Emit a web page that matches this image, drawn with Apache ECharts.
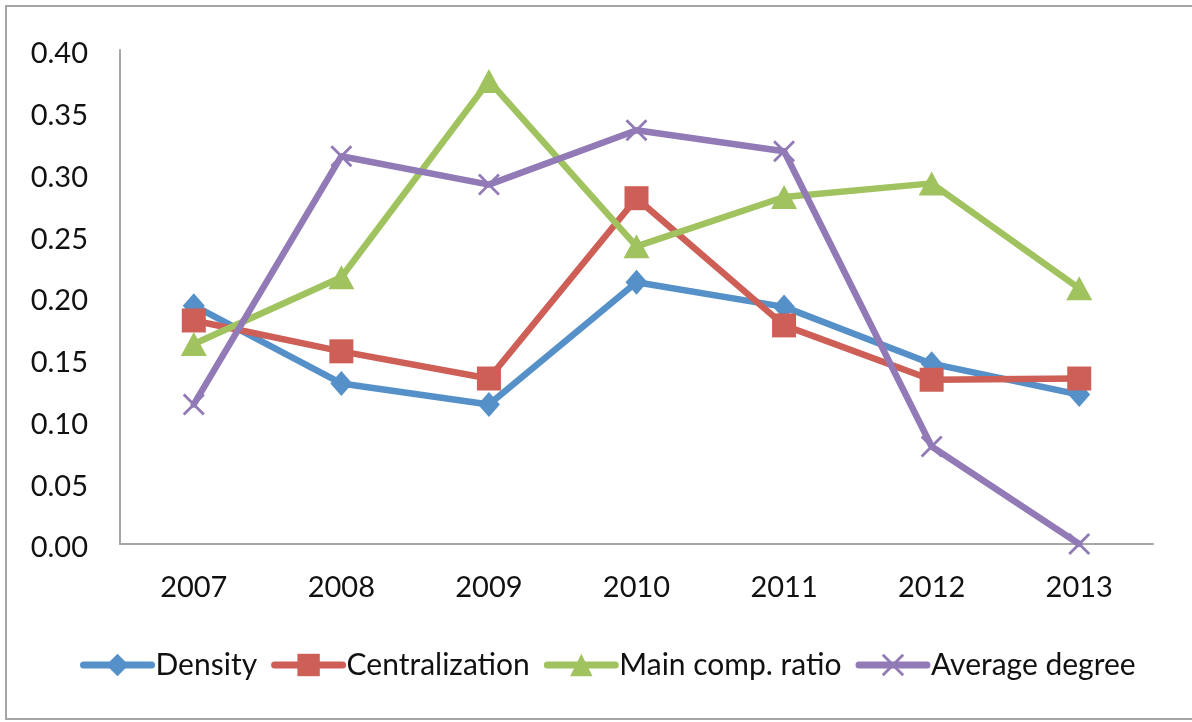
<!DOCTYPE html>
<html>
<head>
<meta charset="utf-8">
<script src="https://cdn.jsdelivr.net/npm/echarts@6/dist/echarts.min.js"></script>
<style>
  html, body { margin: 0; padding: 0; background: #ffffff; }
  #chart { width: 1192px; height: 722px; }
</style>
</head>
<body>
<div id="chart"></div>
<script>
// Yearly network indicators
const years = ['2007', '2008', '2009', '2010', '2011', '2012', '2013'];
const density = [0.193, 0.130, 0.113, 0.212, 0.192, 0.146, 0.121];
const centralization = [0.181, 0.156, 0.134, 0.280, 0.177, 0.133, 0.134];
const mainCompRatio = [0.162, 0.216, 0.375, 0.241, 0.281, 0.292, 0.207];
const averageDegree = [0.113, 0.314, 0.291, 0.335, 0.318, 0.079, 0.000];

const FONT = 'Lato, "Open Sans", sans-serif';
const COLORS = {
  blue: '#5690C8',
  red: '#CD5F57',
  green: '#A0C35F',
  purple: '#917AB6'
};

// Thin "x" marker drawn as two filled bars
const CROSS = 'path://M0,0.9 L0.9,0 L10,9.1 L9.1,10 Z M9.1,0 L10,0.9 L0.9,10 L0,9.1 Z';

function lineSeries(name, data, color, symbol, size) {
  return {
    name: name,
    type: 'line',
    data: data,
    symbol: symbol,
    symbolSize: size,
    showAllSymbol: true,
    lineStyle: { color: color, width: 6.5, cap: 'round', join: 'round' },
    itemStyle: { color: color, borderWidth: 0 },
    emphasis: { disabled: true },
    animation: false
  };
}

const chart = echarts.init(document.getElementById('chart'), null, { renderer: 'canvas' });
chart.setOption({
  backgroundColor: '#ffffff',
  animation: false,
  graphic: [{
    type: 'rect',
    shape: { x: 6, y: 6, width: 1220, height: 713 },
    style: { fill: 'none', stroke: '#a6a6a6', lineWidth: 2 },
    silent: true
  }],
  grid: { left: 120, right: 39, top: 50, bottom: 178, containLabel: false },
  legend: {
    left: 75,
    top: 645,
    itemWidth: 68,
    itemHeight: 28,
    itemGap: 14,
    lineStyle: { width: 7, cap: 'round' },
    textStyle: { fontFamily: FONT, fontSize: 30, color: '#111111', padding: [0, 0, 0, -1] },
    data: ['Density', 'Centralization', 'Main comp. ratio', 'Average degree']
  },
  xAxis: {
    type: 'category',
    data: years,
    boundaryGap: true,
    axisLine: { show: true, lineStyle: { color: '#a6a6a6', width: 2 } },
    axisTick: { show: false },
    axisLabel: { fontFamily: FONT, fontSize: 29, color: '#111111', margin: 29 },
    splitLine: { show: false }
  },
  yAxis: {
    type: 'value',
    min: 0,
    max: 0.4,
    interval: 0.05,
    axisLine: { show: true, lineStyle: { color: '#a6a6a6', width: 2 } },
    axisTick: { show: false },
    axisLabel: {
      fontFamily: FONT, fontSize: 29, color: '#111111', margin: 32,
      formatter: v => '{t|' + v.toFixed(2) + '}',
      rich: {
        t: { fontFamily: FONT, fontSize: 29, color: '#111111', lineHeight: 29, padding: [8, 0, 0, 0] }
      }
    },
    splitLine: { show: false }
  },
  series: [
    lineSeries('Density', density, COLORS.blue, 'diamond', [22, 25]),
    lineSeries('Centralization', centralization, COLORS.red, 'rect', 24),
    lineSeries('Main comp. ratio', mainCompRatio, COLORS.green, 'triangle', [26, 24]),
    lineSeries('Average degree', averageDegree, COLORS.purple, CROSS, 22)
  ]
});
</script>
</body>
</html>
